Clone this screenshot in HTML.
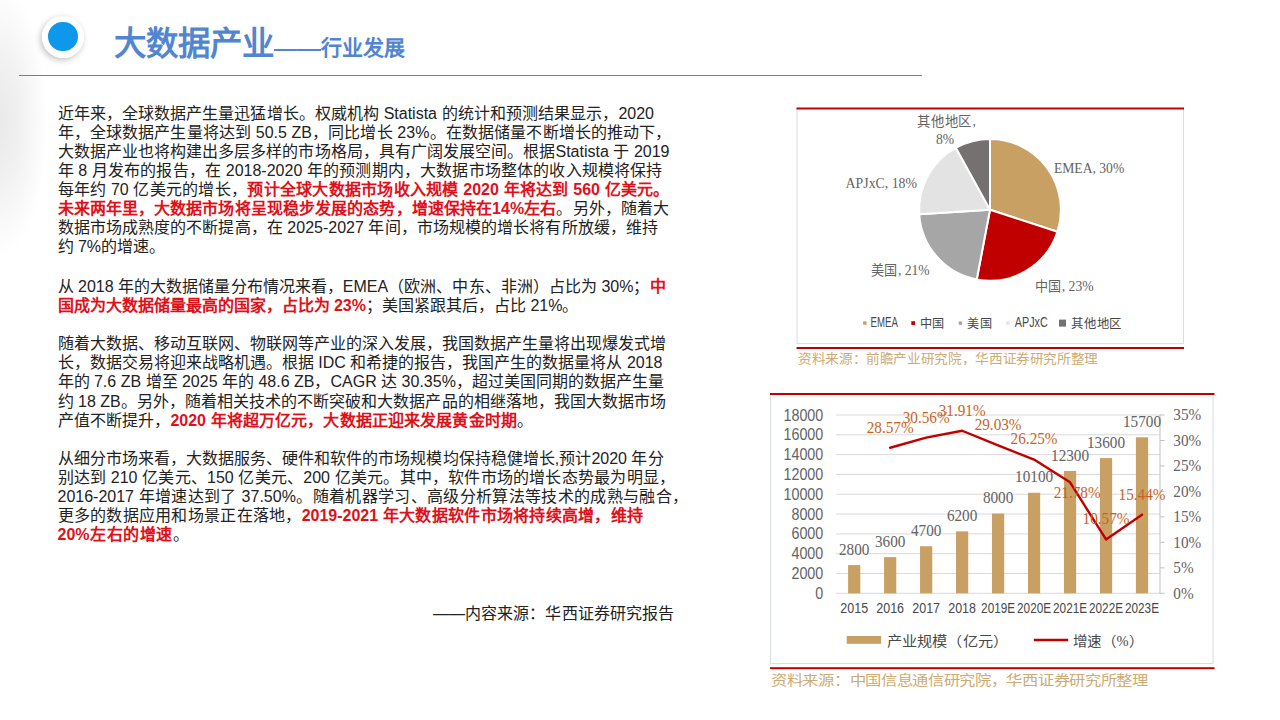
<!DOCTYPE html>
<html lang="zh-CN"><head><meta charset="utf-8"><title>大数据产业——行业发展</title>
<style>
html,body{margin:0;padding:0;}
body{width:1280px;height:720px;position:relative;overflow:hidden;background:#fff;font-family:"Liberation Sans",sans-serif;}
.blob{position:absolute;left:-48px;top:0px;width:96px;height:270px;background:radial-gradient(ellipse 50% 50% at 50% 45%,rgba(0,0,0,0.085) 0%,rgba(0,0,0,0.06) 40%,rgba(0,0,0,0) 100%);}
.ring{position:absolute;left:42.4px;top:16px;width:42px;height:42px;border-radius:50%;background:radial-gradient(circle,#ffffff 72%,#f6f6f6 85%,#ededed 100%);box-shadow:-1.5px 2px 6px rgba(0,0,0,0.25);}
.dot{position:absolute;left:48.1px;top:21.5px;width:29.8px;height:29.8px;border-radius:50%;background:#0e98eb;}
.title{position:absolute;left:114px;top:22px;white-space:nowrap;color:#5285cf;font-weight:bold;font-size:32.4px;line-height:44px;}
.title span{font-size:21px;}
.title i{font-style:normal;font-size:21px;display:inline-block;transform:scaleX(1.12);transform-origin:0 50%;margin-right:5px;}
.hr{position:absolute;left:18.5px;top:75px;width:903.5px;height:1px;background:#6b819c;}
.l{position:absolute;left:57.5px;white-space:nowrap;font-size:16px;line-height:19px;height:19px;color:#222;font-weight:300;text-align:justify;text-align-last:justify;}
.l b{color:#e0101a;font-weight:bold;}
.src{position:absolute;left:433px;top:603.5px;width:241px;white-space:nowrap;font-size:16px;line-height:19px;color:#222;font-weight:300;text-align:justify;text-align-last:justify;}
svg{position:absolute;left:0;top:0;}
</style></head><body>
<div class="blob"></div>
<div class="ring"></div><div class="dot"></div>
<div class="title">大数据产业<i>——</i><span>行业发展</span></div>
<div class="hr"></div>
<div class="l" style="top:103.8px;width:596.5px">近年来，全球数据产生量迅猛增长。权威机构 Statista 的统计和预测结果显示，2020</div>
<div class="l" style="top:122.9px;width:614.0px">年，全球数据产生量将达到 50.5 ZB，同比增长 23%。在数据储量不断增长的推动下，</div>
<div class="l" style="top:142.0px;width:612.0px">大数据产业也将构建出多层多样的市场格局，具有广阔发展空间。根据Statista 于 2019</div>
<div class="l" style="top:161.0px;width:605.0px">年 8 月发布的报告，在 2018-2020 年的预测期内，大数据市场整体的收入规模将保持</div>
<div class="l" style="top:180.1px;width:612.0px">每年约 70 亿美元的增长，<b>预计全球大数据市场收入规模 2020 年将达到 560 亿美元。</b></div>
<div class="l" style="top:199.2px;width:611.5px"><b>未来两年里，大数据市场将呈现稳步发展的态势，增速保持在14%左右</b>。另外，随着大</div>
<div class="l" style="top:218.3px;width:600.5px">数据市场成熟度的不断提高，在 2025-2027 年间，市场规模的增长将有所放缓，维持</div>
<div class="l" style="top:237.4px;width:99.0px">约 7%的增速。</div>
<div class="l" style="top:276.5px;width:608.0px">从 2018 年的大数据储量分布情况来看，EMEA（欧洲、中东、非洲）占比为 30%；<b>中</b></div>
<div class="l" style="top:295.7px;width:518.0px"><b>国成为大数据储量最高的国家，占比为 23%</b>；美国紧跟其后，占比 21%。</div>
<div class="l" style="top:334.2px;width:607.5px">随着大数据、移动互联网、物联网等产业的深入发展，我国数据产生量将出现爆发式增</div>
<div class="l" style="top:353.3px;width:605.0px">长，数据交易将迎来战略机遇。根据 IDC 和希捷的报告，我国产生的数据量将从 2018</div>
<div class="l" style="top:372.4px;width:605.0px">年的 7.6 ZB 增至 2025 年的 48.6 ZB，CAGR 达 30.35%，超过美国同期的数据产生量</div>
<div class="l" style="top:391.5px;width:608.5px">约 18 ZB。另外，随着相关技术的不断突破和大数据产品的相继落地，我国大数据市场</div>
<div class="l" style="top:410.9px;width:475.5px">产值不断提升，<b>2020 年将超万亿元，大数据正迎来发展黄金时期</b>。</div>
<div class="l" style="top:448.8px;width:606.0px">从细分市场来看，大数据服务、硬件和软件的市场规模均保持稳健增长,预计2020 年分</div>
<div class="l" style="top:467.9px;width:617.5px">别达到 210 亿美元、150 亿美元、200 亿美元。其中，软件市场的增长态势最为明显，</div>
<div class="l" style="top:487.0px;width:630.5px">2016-2017 年增速达到了 37.50%。随着机器学习、高级分析算法等技术的成熟与融合，</div>
<div class="l" style="top:506.1px;width:585.5px">更多的数据应用和场景正在落地，<b>2019-2021 年大数据软件市场将持续高增，维持</b></div>
<div class="l" style="top:525.2px;width:131.5px"><b>20%左右的增速</b>。</div><svg width="1280" height="720" viewBox="0 0 1280 720">
<g id="pie">
<path d="M797,109 V343.6 H1183.5 V109" fill="none" stroke="#d6dde6" stroke-width="1"/>
<rect x="796.5" y="107.5" width="387.5" height="2" fill="#c00000"/>
<rect x="796.5" y="347" width="387.5" height="2" fill="#c00000"/>
<path d="M990.00,209.80 L990.00,138.90 A70.90,70.90 0 0 1 1057.43,231.71 Z" fill="#c9a063" stroke="#fff" stroke-width="2" stroke-linejoin="round"/>
<path d="M990.00,209.80 L1057.43,231.71 A70.90,70.90 0 0 1 976.71,279.44 Z" fill="#c00000" stroke="#fff" stroke-width="2" stroke-linejoin="round"/>
<path d="M990.00,209.80 L976.71,279.44 A70.90,70.90 0 0 1 919.24,214.25 Z" fill="#a6a6a6" stroke="#fff" stroke-width="2" stroke-linejoin="round"/>
<path d="M990.00,209.80 L919.24,214.25 A70.90,70.90 0 0 1 955.84,147.67 Z" fill="#e3e3e3" stroke="#fff" stroke-width="2" stroke-linejoin="round"/>
<path d="M990.00,209.80 L955.84,147.67 A70.90,70.90 0 0 1 990.00,138.90 Z" fill="#767171" stroke="#fff" stroke-width="2" stroke-linejoin="round"/>
<text transform="translate(1053.90 167.40) scale(0.885 1)" font-size="15.4" fill="#636363" font-family='"Liberation Serif",serif' text-anchor="start" dominant-baseline="central" textLength="79.5" lengthAdjust="spacingAndGlyphs">EMEA, 30%</text>
<text transform="translate(1034.50 286.00) scale(1.000 1)" font-size="13.6" fill="#636363" font-family='"Liberation Serif",serif' text-anchor="start" dominant-baseline="central" textLength="27.0" lengthAdjust="spacingAndGlyphs">中国</text>
<text transform="translate(1061.80 285.70) scale(0.885 1)" font-size="15.4" fill="#636363" font-family='"Liberation Serif",serif' text-anchor="start" dominant-baseline="central">, 23%</text>
<text transform="translate(870.60 270.00) scale(1.000 1)" font-size="13.6" fill="#636363" font-family='"Liberation Serif",serif' text-anchor="start" dominant-baseline="central" textLength="27.0" lengthAdjust="spacingAndGlyphs">美国</text>
<text transform="translate(897.90 269.70) scale(0.885 1)" font-size="15.4" fill="#636363" font-family='"Liberation Serif",serif' text-anchor="start" dominant-baseline="central">, 21%</text>
<text transform="translate(845.60 183.10) scale(0.885 1)" font-size="15.4" fill="#636363" font-family='"Liberation Serif",serif' text-anchor="start" dominant-baseline="central" textLength="80.7" lengthAdjust="spacingAndGlyphs">APJxC, 18%</text>
<text transform="translate(917.00 121.40) scale(1.000 1)" font-size="13.6" fill="#636363" font-family='"Liberation Serif",serif' text-anchor="start" dominant-baseline="central" textLength="55.0" lengthAdjust="spacingAndGlyphs">其他地区</text>
<text transform="translate(972.50 121.10) scale(0.885 1)" font-size="15.4" fill="#636363" font-family='"Liberation Serif",serif' text-anchor="start" dominant-baseline="central">,</text>
<text transform="translate(945.00 139.20) scale(0.885 1)" font-size="15.4" fill="#636363" font-family='"Liberation Serif",serif' text-anchor="middle" dominant-baseline="central">8%</text>
<rect x="863.1" y="321.4" width="3.4" height="3.4" fill="#c9a063"/>
<rect x="911.3" y="321.2" width="3.8" height="3.8" fill="#c00000"/>
<rect x="958.7" y="321.4" width="3.4" height="3.4" fill="#a6a6a6"/>
<rect x="1006.1" y="321.4" width="3.4" height="3.4" fill="#e3e3e3"/>
<rect x="1059.0" y="319.6" width="7.0" height="7.0" fill="#767171"/>
<text transform="translate(870.60 322.80) scale(1.000 1)" font-size="13.8" fill="#484848" font-family='"Liberation Sans",sans-serif' text-anchor="start" dominant-baseline="central" textLength="27.4" lengthAdjust="spacingAndGlyphs">EMEA</text>
<text transform="translate(919.70 323.50) scale(1.000 1)" font-size="12.5" fill="#484848" font-family='"Liberation Serif",serif' text-anchor="start" dominant-baseline="central" textLength="25.3" lengthAdjust="spacingAndGlyphs">中国</text>
<text transform="translate(967.30 323.50) scale(1.000 1)" font-size="12.5" fill="#484848" font-family='"Liberation Serif",serif' text-anchor="start" dominant-baseline="central" textLength="25.3" lengthAdjust="spacingAndGlyphs">美国</text>
<text transform="translate(1014.80 322.80) scale(1.000 1)" font-size="13.8" fill="#484848" font-family='"Liberation Sans",sans-serif' text-anchor="start" dominant-baseline="central" textLength="33.0" lengthAdjust="spacingAndGlyphs">APJxC</text>
<text transform="translate(1070.80 323.50) scale(1.000 1)" font-size="12.5" fill="#484848" font-family='"Liberation Serif",serif' text-anchor="start" dominant-baseline="central" textLength="51.5" lengthAdjust="spacingAndGlyphs">其他地区</text>
<text transform="translate(798.00 358.20) scale(1.000 1)" font-size="13" fill="#cdab72" font-family='"Liberation Serif",serif' text-anchor="start" dominant-baseline="central" textLength="300.0" lengthAdjust="spacingAndGlyphs">资料来源：前瞻产业研究院，华西证券研究所整理</text>
</g>
<g id="bar">
<path d="M770.5,394 V663.5 H1213 V394" fill="none" stroke="#d6dde6" stroke-width="1"/>
<rect x="770" y="393" width="444.5" height="2" fill="#c00000"/>
<rect x="770" y="667.2" width="444.5" height="2" fill="#c00000"/>
<line x1="836.2" x2="1160.0" y1="593.30" y2="593.30" stroke="#d9d9d9" stroke-width="1"/>
<text transform="translate(823.30 593.10) scale(0.885 1)" font-size="16.2" fill="#636363" font-family='"Liberation Sans",sans-serif' text-anchor="end" dominant-baseline="central">0</text>
<line x1="836.2" x2="1160.0" y1="573.49" y2="573.49" stroke="#d9d9d9" stroke-width="1"/>
<text transform="translate(823.30 573.29) scale(0.885 1)" font-size="16.2" fill="#636363" font-family='"Liberation Sans",sans-serif' text-anchor="end" dominant-baseline="central">2000</text>
<line x1="836.2" x2="1160.0" y1="553.68" y2="553.68" stroke="#d9d9d9" stroke-width="1"/>
<text transform="translate(823.30 553.48) scale(0.885 1)" font-size="16.2" fill="#636363" font-family='"Liberation Sans",sans-serif' text-anchor="end" dominant-baseline="central">4000</text>
<line x1="836.2" x2="1160.0" y1="533.87" y2="533.87" stroke="#d9d9d9" stroke-width="1"/>
<text transform="translate(823.30 533.67) scale(0.885 1)" font-size="16.2" fill="#636363" font-family='"Liberation Sans",sans-serif' text-anchor="end" dominant-baseline="central">6000</text>
<line x1="836.2" x2="1160.0" y1="514.06" y2="514.06" stroke="#d9d9d9" stroke-width="1"/>
<text transform="translate(823.30 513.86) scale(0.885 1)" font-size="16.2" fill="#636363" font-family='"Liberation Sans",sans-serif' text-anchor="end" dominant-baseline="central">8000</text>
<line x1="836.2" x2="1160.0" y1="494.24" y2="494.24" stroke="#d9d9d9" stroke-width="1"/>
<text transform="translate(823.30 494.04) scale(0.885 1)" font-size="16.2" fill="#636363" font-family='"Liberation Sans",sans-serif' text-anchor="end" dominant-baseline="central">10000</text>
<line x1="836.2" x2="1160.0" y1="474.43" y2="474.43" stroke="#d9d9d9" stroke-width="1"/>
<text transform="translate(823.30 474.23) scale(0.885 1)" font-size="16.2" fill="#636363" font-family='"Liberation Sans",sans-serif' text-anchor="end" dominant-baseline="central">12000</text>
<line x1="836.2" x2="1160.0" y1="454.62" y2="454.62" stroke="#d9d9d9" stroke-width="1"/>
<text transform="translate(823.30 454.42) scale(0.885 1)" font-size="16.2" fill="#636363" font-family='"Liberation Sans",sans-serif' text-anchor="end" dominant-baseline="central">14000</text>
<line x1="836.2" x2="1160.0" y1="434.81" y2="434.81" stroke="#d9d9d9" stroke-width="1"/>
<text transform="translate(823.30 434.61) scale(0.885 1)" font-size="16.2" fill="#636363" font-family='"Liberation Sans",sans-serif' text-anchor="end" dominant-baseline="central">16000</text>
<line x1="836.2" x2="1160.0" y1="415.00" y2="415.00" stroke="#d9d9d9" stroke-width="1"/>
<text transform="translate(823.30 414.80) scale(0.885 1)" font-size="16.2" fill="#636363" font-family='"Liberation Sans",sans-serif' text-anchor="end" dominant-baseline="central">18000</text>
<line x1="1160.0" x2="1160.0" y1="415.0" y2="593.3" stroke="#bfbfbf" stroke-width="1"/>
<line x1="1160.0" x2="1164.5" y1="593.30" y2="593.30" stroke="#bfbfbf" stroke-width="1"/>
<text transform="translate(1173.30 593.50) scale(0.885 1)" font-size="17.2" fill="#636363" font-family='"Liberation Serif",serif' text-anchor="start" dominant-baseline="central">0%</text>
<line x1="1160.0" x2="1164.5" y1="567.83" y2="567.83" stroke="#bfbfbf" stroke-width="1"/>
<text transform="translate(1173.30 568.03) scale(0.885 1)" font-size="17.2" fill="#636363" font-family='"Liberation Serif",serif' text-anchor="start" dominant-baseline="central">5%</text>
<line x1="1160.0" x2="1164.5" y1="542.36" y2="542.36" stroke="#bfbfbf" stroke-width="1"/>
<text transform="translate(1173.30 542.56) scale(0.885 1)" font-size="17.2" fill="#636363" font-family='"Liberation Serif",serif' text-anchor="start" dominant-baseline="central">10%</text>
<line x1="1160.0" x2="1164.5" y1="516.89" y2="516.89" stroke="#bfbfbf" stroke-width="1"/>
<text transform="translate(1173.30 517.09) scale(0.885 1)" font-size="17.2" fill="#636363" font-family='"Liberation Serif",serif' text-anchor="start" dominant-baseline="central">15%</text>
<line x1="1160.0" x2="1164.5" y1="491.41" y2="491.41" stroke="#bfbfbf" stroke-width="1"/>
<text transform="translate(1173.30 491.61) scale(0.885 1)" font-size="17.2" fill="#636363" font-family='"Liberation Serif",serif' text-anchor="start" dominant-baseline="central">20%</text>
<line x1="1160.0" x2="1164.5" y1="465.94" y2="465.94" stroke="#bfbfbf" stroke-width="1"/>
<text transform="translate(1173.30 466.14) scale(0.885 1)" font-size="17.2" fill="#636363" font-family='"Liberation Serif",serif' text-anchor="start" dominant-baseline="central">25%</text>
<line x1="1160.0" x2="1164.5" y1="440.47" y2="440.47" stroke="#bfbfbf" stroke-width="1"/>
<text transform="translate(1173.30 440.67) scale(0.885 1)" font-size="17.2" fill="#636363" font-family='"Liberation Serif",serif' text-anchor="start" dominant-baseline="central">30%</text>
<line x1="1160.0" x2="1164.5" y1="415.00" y2="415.00" stroke="#bfbfbf" stroke-width="1"/>
<text transform="translate(1173.30 415.20) scale(0.885 1)" font-size="17.2" fill="#636363" font-family='"Liberation Serif",serif' text-anchor="start" dominant-baseline="central">35%</text>
<rect x="848.09" y="565.06" width="12.2" height="28.24" fill="#c9a063"/>
<rect x="884.07" y="557.14" width="12.2" height="36.16" fill="#c9a063"/>
<rect x="920.04" y="546.24" width="12.2" height="47.06" fill="#c9a063"/>
<rect x="956.02" y="531.39" width="12.2" height="61.91" fill="#c9a063"/>
<rect x="992.00" y="513.56" width="12.2" height="79.74" fill="#c9a063"/>
<rect x="1027.98" y="492.75" width="12.2" height="100.55" fill="#c9a063"/>
<rect x="1063.96" y="470.96" width="12.2" height="122.34" fill="#c9a063"/>
<rect x="1099.93" y="458.08" width="12.2" height="135.22" fill="#c9a063"/>
<rect x="1135.91" y="437.28" width="12.2" height="156.02" fill="#c9a063"/>
<text transform="translate(854.19 608.30) scale(1.000 1)" font-size="14.5" fill="#484848" font-family='"Liberation Sans",sans-serif' text-anchor="middle" dominant-baseline="central" textLength="27.8" lengthAdjust="spacingAndGlyphs">2015</text>
<text transform="translate(854.19 549.36) scale(0.885 1)" font-size="17.2" fill="#636363" font-family='"Liberation Serif",serif' text-anchor="middle" dominant-baseline="central">2800</text>
<text transform="translate(890.17 608.30) scale(1.000 1)" font-size="14.5" fill="#484848" font-family='"Liberation Sans",sans-serif' text-anchor="middle" dominant-baseline="central" textLength="27.8" lengthAdjust="spacingAndGlyphs">2016</text>
<text transform="translate(890.17 541.44) scale(0.885 1)" font-size="17.2" fill="#636363" font-family='"Liberation Serif",serif' text-anchor="middle" dominant-baseline="central">3600</text>
<text transform="translate(926.14 608.30) scale(1.000 1)" font-size="14.5" fill="#484848" font-family='"Liberation Sans",sans-serif' text-anchor="middle" dominant-baseline="central" textLength="27.8" lengthAdjust="spacingAndGlyphs">2017</text>
<text transform="translate(926.14 530.54) scale(0.885 1)" font-size="17.2" fill="#636363" font-family='"Liberation Serif",serif' text-anchor="middle" dominant-baseline="central">4700</text>
<text transform="translate(962.12 608.30) scale(1.000 1)" font-size="14.5" fill="#484848" font-family='"Liberation Sans",sans-serif' text-anchor="middle" dominant-baseline="central" textLength="27.8" lengthAdjust="spacingAndGlyphs">2018</text>
<text transform="translate(962.12 515.69) scale(0.885 1)" font-size="17.2" fill="#636363" font-family='"Liberation Serif",serif' text-anchor="middle" dominant-baseline="central">6200</text>
<text transform="translate(998.10 608.30) scale(1.000 1)" font-size="14.5" fill="#484848" font-family='"Liberation Sans",sans-serif' text-anchor="middle" dominant-baseline="central" textLength="34.0" lengthAdjust="spacingAndGlyphs">2019E</text>
<text transform="translate(998.10 497.86) scale(0.885 1)" font-size="17.2" fill="#636363" font-family='"Liberation Serif",serif' text-anchor="middle" dominant-baseline="central">8000</text>
<text transform="translate(1034.08 608.30) scale(1.000 1)" font-size="14.5" fill="#484848" font-family='"Liberation Sans",sans-serif' text-anchor="middle" dominant-baseline="central" textLength="34.0" lengthAdjust="spacingAndGlyphs">2020E</text>
<text transform="translate(1034.08 477.05) scale(0.885 1)" font-size="17.2" fill="#636363" font-family='"Liberation Serif",serif' text-anchor="middle" dominant-baseline="central">10100</text>
<text transform="translate(1070.06 608.30) scale(1.000 1)" font-size="14.5" fill="#484848" font-family='"Liberation Sans",sans-serif' text-anchor="middle" dominant-baseline="central" textLength="34.0" lengthAdjust="spacingAndGlyphs">2021E</text>
<text transform="translate(1070.06 455.26) scale(0.885 1)" font-size="17.2" fill="#636363" font-family='"Liberation Serif",serif' text-anchor="middle" dominant-baseline="central">12300</text>
<text transform="translate(1106.03 608.30) scale(1.000 1)" font-size="14.5" fill="#484848" font-family='"Liberation Sans",sans-serif' text-anchor="middle" dominant-baseline="central" textLength="34.0" lengthAdjust="spacingAndGlyphs">2022E</text>
<text transform="translate(1106.03 442.38) scale(0.885 1)" font-size="17.2" fill="#636363" font-family='"Liberation Serif",serif' text-anchor="middle" dominant-baseline="central">13600</text>
<text transform="translate(1142.01 608.30) scale(1.000 1)" font-size="14.5" fill="#484848" font-family='"Liberation Sans",sans-serif' text-anchor="middle" dominant-baseline="central" textLength="34.0" lengthAdjust="spacingAndGlyphs">2023E</text>
<text transform="translate(1142.01 421.58) scale(0.885 1)" font-size="17.2" fill="#636363" font-family='"Liberation Serif",serif' text-anchor="middle" dominant-baseline="central">15700</text>
<polyline points="890.17,447.76 926.14,437.62 962.12,430.74 998.10,445.41 1034.08,459.57 1070.06,482.35 1106.03,539.45 1142.01,514.64" fill="none" stroke="#c00000" stroke-width="2.4" stroke-linejoin="round" stroke-linecap="round"/>
<text transform="translate(890.17 427.36) scale(0.885 1)" font-size="17.2" fill="#c8641e" font-family='"Liberation Serif",serif' text-anchor="middle" dominant-baseline="central">28.57%</text>
<text transform="translate(926.14 417.22) scale(0.885 1)" font-size="17.2" fill="#c8641e" font-family='"Liberation Serif",serif' text-anchor="middle" dominant-baseline="central">30.56%</text>
<text transform="translate(962.12 410.34) scale(0.885 1)" font-size="17.2" fill="#c8641e" font-family='"Liberation Serif",serif' text-anchor="middle" dominant-baseline="central">31.91%</text>
<text transform="translate(998.10 425.01) scale(0.885 1)" font-size="17.2" fill="#c8641e" font-family='"Liberation Serif",serif' text-anchor="middle" dominant-baseline="central">29.03%</text>
<text transform="translate(1034.08 439.18) scale(0.885 1)" font-size="17.2" fill="#c8641e" font-family='"Liberation Serif",serif' text-anchor="middle" dominant-baseline="central">26.25%</text>
<text transform="translate(1077.20 492.30) scale(0.885 1)" font-size="17.2" fill="#c8641e" font-family='"Liberation Serif",serif' text-anchor="middle" dominant-baseline="central">21.78%</text>
<text transform="translate(1106.03 519.05) scale(0.885 1)" font-size="17.2" fill="#c8641e" font-family='"Liberation Serif",serif' text-anchor="middle" dominant-baseline="central">10.57%</text>
<text transform="translate(1142.01 494.24) scale(0.885 1)" font-size="17.2" fill="#c8641e" font-family='"Liberation Serif",serif' text-anchor="middle" dominant-baseline="central">15.44%</text>
<rect x="846.7" y="636" width="34.4" height="7.8" fill="#c9a063"/>
<text transform="translate(886.70 641.20) scale(1.000 1)" font-size="14" fill="#484848" font-family='"Liberation Serif",serif' text-anchor="start" dominant-baseline="central" textLength="121.5" lengthAdjust="spacingAndGlyphs">产业规模（亿元）</text>
<line x1="1033.8" x2="1068.2" y1="640" y2="640" stroke="#c00000" stroke-width="2.4"/>
<text transform="translate(1073.00 641.20) scale(1.000 1)" font-size="14" fill="#484848" font-family='"Liberation Serif",serif' text-anchor="start" dominant-baseline="central" textLength="70.0" lengthAdjust="spacingAndGlyphs">增速（%）</text>
<text transform="translate(771.00 680.00) scale(1.000 1)" font-size="13.5" fill="#cdab72" font-family='"Liberation Serif",serif' text-anchor="start" dominant-baseline="central" textLength="376.8" lengthAdjust="spacingAndGlyphs">资料来源：中国信息通信研究院，华西证券研究所整理</text>
</g>
</svg>
<div class="src">——内容来源：华西证券研究报告</div>
</body></html>
